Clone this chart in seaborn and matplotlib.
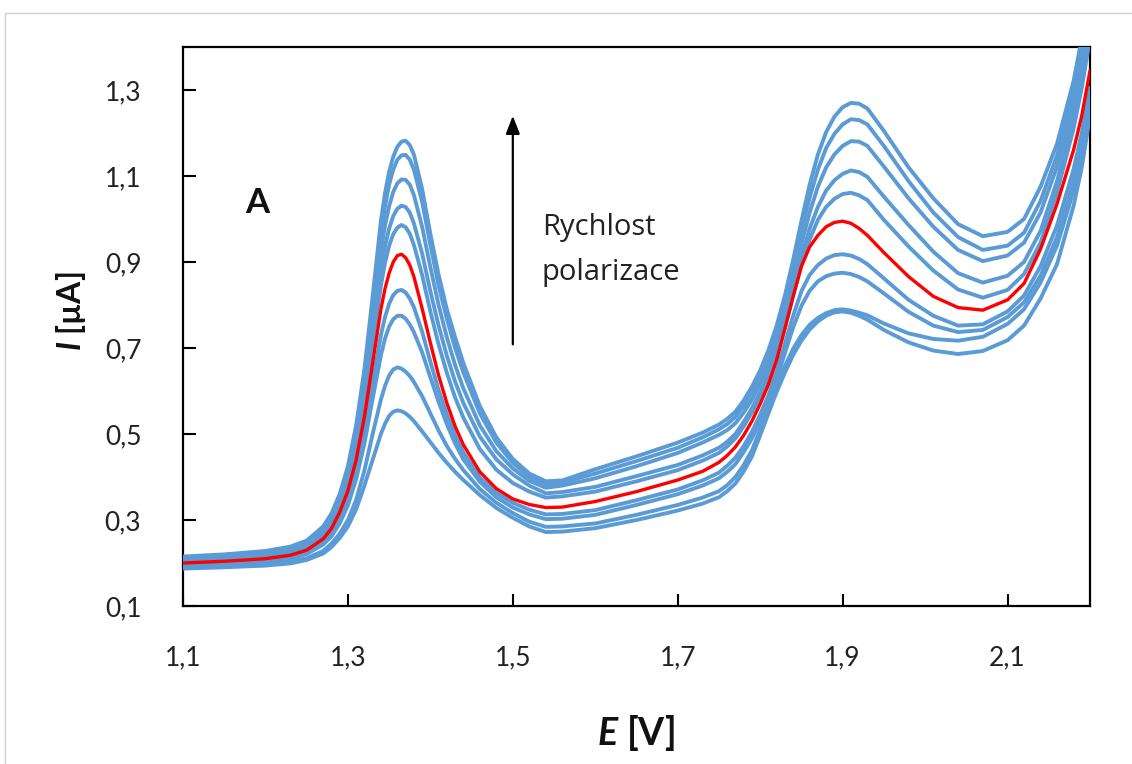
import matplotlib
matplotlib.use("Agg")
import matplotlib.pyplot as plt
from matplotlib.patches import Rectangle
from matplotlib.ticker import FuncFormatter, FixedLocator
import pandas as pd
import seaborn as sns

# Potential axis (V)
E = [1.10, 1.15, 1.20, 1.23, 1.25, 1.27, 1.28, 1.29, 1.30, 1.31, 1.32, 1.33, 1.34,
     1.345, 1.35, 1.355, 1.36, 1.365, 1.37, 1.375, 1.38,
     1.39, 1.40, 1.41, 1.42, 1.43, 1.44, 1.46, 1.48, 1.50, 1.52, 1.54, 1.56,
     1.60, 1.65, 1.70, 1.73,
     1.75, 1.76, 1.77, 1.78, 1.79, 1.80, 1.81, 1.82, 1.83, 1.84, 1.85, 1.86, 1.87, 1.88, 1.89,
     1.90, 1.91, 1.92, 1.93,
     1.95,
     1.98, 2.01, 2.04, 2.07, 2.10, 2.12, 2.14, 2.16, 2.18, 2.19, 2.20]

# Current (uA), one voltammogram per scan rate, slowest to fastest
v1 = [0.187, 0.190, 0.194, 0.199, 0.207, 0.222, 0.237, 0.258, 0.285, 0.325, 0.380, 0.440, 0.500,
      0.524, 0.542, 0.552, 0.555, 0.553, 0.548, 0.540, 0.530,
      0.506, 0.481, 0.456, 0.433, 0.412, 0.393, 0.358, 0.328, 0.305, 0.285, 0.272, 0.273,
      0.281, 0.300, 0.322, 0.338,
      0.353, 0.367, 0.385, 0.413, 0.448, 0.497, 0.548, 0.598, 0.643, 0.684, 0.717, 0.743, 0.762, 0.775, 0.783,
      0.785, 0.782, 0.775, 0.766,
      0.742,
      0.713, 0.694, 0.686, 0.693, 0.718, 0.752, 0.815, 0.895, 1.030, 1.120, 1.240]
v2 = [0.190, 0.193, 0.197, 0.203, 0.211, 0.228, 0.245, 0.268, 0.300, 0.347, 0.415, 0.500, 0.580,
      0.612, 0.636, 0.650, 0.655, 0.652, 0.645, 0.635, 0.621,
      0.588, 0.548, 0.508, 0.472, 0.442, 0.416, 0.372, 0.340, 0.316, 0.296, 0.284, 0.285,
      0.292, 0.312, 0.335, 0.352,
      0.367, 0.381, 0.400, 0.428, 0.462, 0.510, 0.563, 0.612, 0.658, 0.698, 0.730, 0.754, 0.770, 0.781, 0.788,
      0.790, 0.787, 0.782, 0.776,
      0.757,
      0.734, 0.721, 0.717, 0.726, 0.756, 0.790, 0.852, 0.938, 1.065, 1.150, 1.255]
v3 = [0.194, 0.197, 0.202, 0.210, 0.221, 0.243, 0.262, 0.292, 0.334, 0.395, 0.478, 0.582, 0.683,
      0.722, 0.750, 0.767, 0.775, 0.775, 0.768, 0.755, 0.737,
      0.690, 0.632, 0.575, 0.523, 0.478, 0.441, 0.389, 0.353, 0.329, 0.313, 0.302, 0.303,
      0.312, 0.335, 0.360, 0.380,
      0.397, 0.412, 0.430, 0.458, 0.490, 0.528, 0.572, 0.627, 0.688, 0.748, 0.798, 0.833, 0.855, 0.867, 0.873,
      0.875, 0.872, 0.865, 0.855,
      0.827,
      0.784, 0.752, 0.737, 0.742, 0.772, 0.806, 0.868, 0.958, 1.085, 1.170, 1.275]
v4 = [0.197, 0.200, 0.206, 0.214, 0.226, 0.249, 0.270, 0.303, 0.348, 0.415, 0.505, 0.620, 0.730,
      0.772, 0.803, 0.823, 0.833, 0.835, 0.829, 0.815, 0.795,
      0.738, 0.668, 0.602, 0.546, 0.497, 0.457, 0.399, 0.363, 0.340, 0.324, 0.313, 0.314,
      0.323, 0.346, 0.371, 0.392,
      0.410, 0.426, 0.445, 0.472, 0.505, 0.545, 0.590, 0.645, 0.710, 0.775, 0.832, 0.870, 0.893, 0.908, 0.916,
      0.918, 0.915, 0.907, 0.895,
      0.862,
      0.812, 0.775, 0.752, 0.755, 0.785, 0.822, 0.890, 0.985, 1.115, 1.200, 1.305]
v5 = [0.200, 0.204, 0.210, 0.218, 0.230, 0.256, 0.280, 0.318, 0.368, 0.440, 0.540, 0.665, 0.790,
      0.838, 0.874, 0.900, 0.915, 0.918, 0.910, 0.893, 0.866,
      0.792, 0.712, 0.636, 0.572, 0.518, 0.475, 0.412, 0.373, 0.349, 0.336, 0.329, 0.330,
      0.343, 0.366, 0.393, 0.413,
      0.434, 0.450, 0.470, 0.497, 0.530, 0.570, 0.615, 0.672, 0.745, 0.820, 0.890, 0.935, 0.962, 0.982, 0.992,
      0.995, 0.990, 0.978, 0.962,
      0.922,
      0.866, 0.820, 0.794, 0.788, 0.812, 0.850, 0.930, 1.035, 1.160, 1.240, 1.345]
v6 = [0.203, 0.207, 0.214, 0.223, 0.235, 0.263, 0.287, 0.330, 0.383, 0.462, 0.570, 0.710, 0.845,
      0.898, 0.938, 0.965, 0.980, 0.986, 0.981, 0.966, 0.940,
      0.870, 0.785, 0.708, 0.642, 0.585, 0.538, 0.465, 0.417, 0.386, 0.366, 0.352, 0.355,
      0.366, 0.390, 0.416, 0.438,
      0.456, 0.471, 0.490, 0.518, 0.550, 0.588, 0.630, 0.683, 0.747, 0.822, 0.893, 0.952, 0.998, 1.028, 1.047,
      1.058, 1.061, 1.055, 1.044,
      0.998,
      0.936, 0.880, 0.836, 0.817, 0.835, 0.872, 0.945, 1.062, 1.210, 1.305, 1.420]
v7 = [0.206, 0.210, 0.217, 0.227, 0.239, 0.268, 0.293, 0.336, 0.393, 0.478, 0.592, 0.738, 0.880,
      0.937, 0.978, 1.007, 1.024, 1.031, 1.028, 1.015, 0.990,
      0.920, 0.832, 0.752, 0.682, 0.622, 0.572, 0.494, 0.441, 0.406, 0.380, 0.362, 0.365,
      0.377, 0.402, 0.428, 0.450,
      0.468, 0.482, 0.500, 0.528, 0.560, 0.598, 0.640, 0.695, 0.760, 0.838, 0.912, 0.978, 1.028, 1.066, 1.090,
      1.105, 1.113, 1.109, 1.098,
      1.052,
      0.986, 0.924, 0.874, 0.852, 0.868, 0.900, 0.972, 1.088, 1.240, 1.335, 1.450]
v8 = [0.209, 0.213, 0.220, 0.230, 0.243, 0.274, 0.300, 0.344, 0.405, 0.494, 0.612, 0.768, 0.925,
      0.985, 1.030, 1.063, 1.083, 1.092, 1.091, 1.080, 1.056,
      0.982, 0.888, 0.800, 0.725, 0.660, 0.606, 0.520, 0.460, 0.420, 0.391, 0.375, 0.380,
      0.397, 0.425, 0.456, 0.480,
      0.498, 0.509, 0.525, 0.550, 0.580, 0.617, 0.660, 0.714, 0.780, 0.860, 0.942, 1.015, 1.075, 1.120, 1.150,
      1.170, 1.181, 1.180, 1.170,
      1.122,
      1.048, 0.982, 0.928, 0.902, 0.915, 0.945, 1.015, 1.122, 1.270, 1.365, 1.480]
v9 = [0.212, 0.216, 0.223, 0.233, 0.247, 0.280, 0.308, 0.352, 0.415, 0.508, 0.632, 0.795, 0.965,
      1.030, 1.080, 1.115, 1.138, 1.148, 1.149, 1.138, 1.115,
      1.040, 0.940, 0.845, 0.768, 0.700, 0.643, 0.548, 0.480, 0.433, 0.400, 0.383, 0.387,
      0.408, 0.437, 0.468, 0.492,
      0.511, 0.523, 0.540, 0.565, 0.597, 0.635, 0.680, 0.735, 0.802, 0.885, 0.972, 1.050, 1.115, 1.165, 1.198,
      1.220, 1.232, 1.230, 1.220,
      1.170,
      1.088, 1.015, 0.958, 0.928, 0.938, 0.968, 1.042, 1.148, 1.295, 1.390, 1.505]
v10 = [0.215, 0.220, 0.228, 0.238, 0.252, 0.285, 0.315, 0.360, 0.425, 0.520, 0.650, 0.820, 0.995,
       1.060, 1.110, 1.145, 1.168, 1.180, 1.182, 1.172, 1.150,
       1.070, 0.965, 0.870, 0.790, 0.725, 0.665, 0.565, 0.492, 0.442, 0.408, 0.390, 0.392,
       0.418, 0.448, 0.480, 0.503,
       0.522, 0.535, 0.552, 0.578, 0.610, 0.648, 0.695, 0.752, 0.822, 0.905, 0.995, 1.080, 1.150, 1.202, 1.238,
       1.260, 1.270, 1.268, 1.257,
       1.205,
       1.120, 1.048, 0.988, 0.960, 0.970, 1.000, 1.075, 1.175, 1.320, 1.420, 1.540]

series = {"v1": v1, "v2": v2, "v3": v3, "v4": v4, "v5": v5,
          "v6": v6, "v7": v7, "v8": v8, "v9": v9, "v10": v10}
highlight = "v5"

x_ticks = [1.1, 1.3, 1.5, 1.7, 1.9, 2.1]
y_ticks = [0.1, 0.3, 0.5, 0.7, 0.9, 1.1, 1.3]

BLUE = "#5B9BD5"
RED = "#FF0000"

frames = [pd.DataFrame({"E": E, "I": vals, "scan": name}) for name, vals in series.items()]
df = pd.concat(frames, ignore_index=True)

order = [k for k in series if k != highlight] + [highlight]
palette = {k: (RED if k == highlight else BLUE) for k in series}

sns.set_theme(style="white")
plt.rcParams["font.family"] = ["Lato", "DejaVu Sans"]
plt.rcParams["mathtext.fontset"] = "custom"
plt.rcParams["mathtext.bfit"] = "Lato:bold:italic"
plt.rcParams["mathtext.it"] = "Lato:italic"

fig = plt.figure(figsize=(11.32, 7.64), dpi=100)
fig.patch.set_facecolor("white")
ax = fig.add_axes([183 / 1132, 1 - 606 / 764, (1090 - 183) / 1132, (606 - 47) / 764])

sns.lineplot(data=df, x="E", y="I", hue="scan", hue_order=order, palette=palette,
             sort=False, estimator=None, legend=False, ax=ax, linewidth=2.8, zorder=3)
for line in ax.get_lines():
    if matplotlib.colors.to_hex(line.get_color()).lower() == RED.lower():
        line.set_linewidth(2.4)
        line.set_zorder(4)
    line.set_solid_joinstyle("round")
    line.set_solid_capstyle("round")

ax.set_xlim(1.1, 2.2)
ax.set_ylim(0.1, 1.40)
ax.xaxis.set_major_locator(FixedLocator(x_ticks))
ax.yaxis.set_major_locator(FixedLocator(y_ticks))
comma = FuncFormatter(lambda v, pos: f"{v:.1f}".replace(".", ","))
ax.xaxis.set_major_formatter(comma)
ax.yaxis.set_major_formatter(comma)
ax.tick_params(axis="both", direction="in", length=9, width=1.5, color="black",
               labelsize=19, labelcolor="#222222")
ax.tick_params(axis="x", pad=28, bottom=True)
ax.tick_params(axis="y", pad=30, left=True)

for side in ["left", "right", "top", "bottom"]:
    ax.spines[side].set_visible(True)
    ax.spines[side].set_color("black")
    ax.spines[side].set_linewidth(1.6)
    ax.spines[side].set_zorder(2)

ax.set_xlabel(r"$\mathbfit{E}$ [V]", fontsize=27, fontweight="bold", color="#111111")
ax.set_ylabel(r"$\mathbfit{I}$ [µA]", fontsize=23, fontweight="bold", color="#111111")
ax.xaxis.set_label_coords(0.4995, -0.192)
ax.yaxis.set_label_coords(-0.105, 0.528)

ax.text(1.19, 1.037, "A", fontsize=25, fontweight="bold", ha="center", va="center",
        color="#111111")
ax.annotate("", xy=(1.5, 1.2465), xytext=(1.5, 0.702),
            arrowprops=dict(arrowstyle="-|>,head_length=0.9,head_width=0.35",
                            color="black", lw=1.6))
ax.text(1.535, 0.928, "Rychlost\npolarizace", fontsize=21, ha="left", va="center",
        linespacing=1.7, color="#222222", family=["Open Sans", "DejaVu Sans"])

# thin frame around the whole chart area
fig.patches.append(Rectangle((4.5 / 1132, -0.05), 1.2, 1 - 12.5 / 764 + 0.05,
                             transform=fig.transFigure, fill=False,
                             edgecolor="#D0D0D0", linewidth=1.0))

fig.savefig("out.png", dpi=100, facecolor="white")
